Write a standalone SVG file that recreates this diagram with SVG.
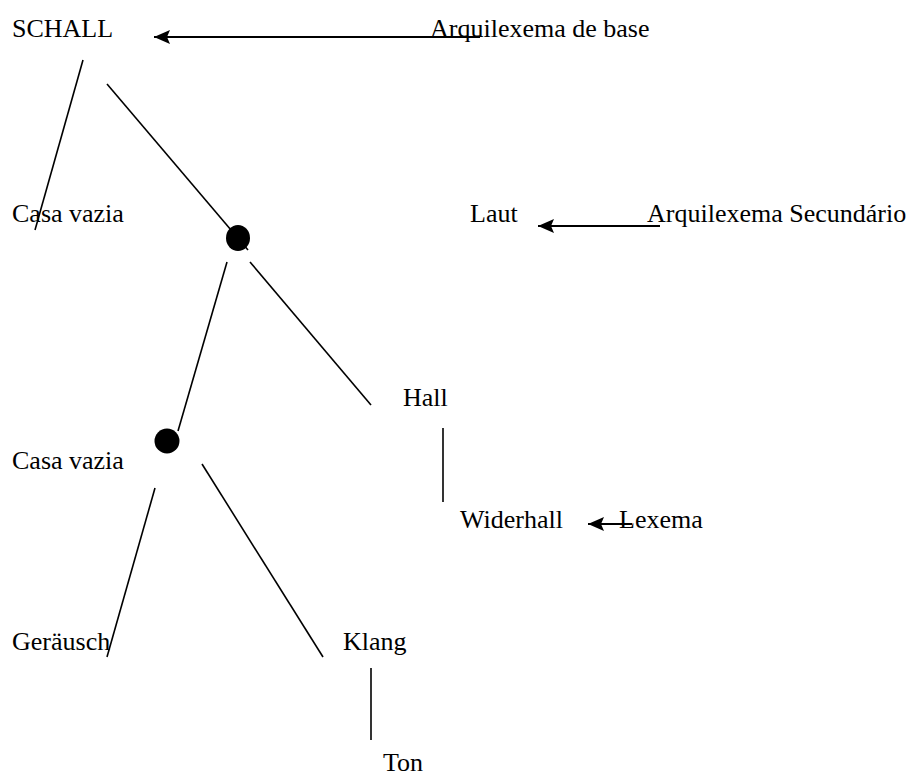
<svg xmlns="http://www.w3.org/2000/svg" width="914" height="776" viewBox="0 0 914 776">
<style>
text { font-family: "Liberation Serif", "Times New Roman", serif; font-size: 26px; fill: #000; }
.ln { stroke: #000; stroke-width: 1.6; fill: none; }
.ar { stroke: #000; stroke-width: 2; fill: none; marker-end: url(#ah); }
.dot { fill: #000; }
</style>
<defs>
<marker id="ah" markerUnits="userSpaceOnUse" markerWidth="18" markerHeight="16" refX="16" refY="8" orient="auto">
<path d="M0,1 L16,8 L0,15 L3,8 Z" fill="#000"/>
</marker>
</defs>
<rect width="914" height="776" fill="#fff"/>
<g id="connectors">
<line class="ln" x1="83" y1="60" x2="35" y2="230"/>
<line class="ln" x1="107" y1="84" x2="248" y2="250"/>
<line class="ln" x1="227" y1="262" x2="178" y2="431"/>
<line class="ln" x1="250" y1="262" x2="371" y2="405"/>
<line class="ln" x1="443" y1="428" x2="443" y2="502"/>
<line class="ln" x1="155" y1="488" x2="107" y2="657"/>
<line class="ln" x1="202" y1="464" x2="323" y2="657"/>
<line class="ln" x1="371" y1="668" x2="371" y2="740"/>
<line class="ar" x1="480" y1="37" x2="154" y2="37"/>
<line class="ar" x1="660" y1="226" x2="538" y2="226"/>
<line class="ar" x1="632" y1="524" x2="588" y2="524"/>
</g>
<g id="n-schall"><text x="12" y="37">SCHALL</text></g>
<g id="n-arq-base"><text x="430" y="37">Arquilexema de base</text></g>
<g id="n-casa1"><text x="12" y="222">Casa vazia</text></g>
<g id="n-laut"><text x="470" y="222">Laut</text></g>
<g id="n-arq-sec"><text x="647" y="222">Arquilexema Secundário</text></g>
<g id="n-dot1"><ellipse class="dot" cx="238" cy="238" rx="12" ry="13"/></g>
<g id="n-hall"><text x="403" y="406">Hall</text></g>
<g id="n-dot2"><circle class="dot" cx="167" cy="441" r="12.5"/></g>
<g id="n-casa2"><text x="12" y="469">Casa vazia</text></g>
<g id="n-widerhall"><text x="460" y="528">Widerhall</text></g>
<g id="n-lexema"><text x="619" y="528">Lexema</text></g>
<g id="n-gerausch"><text x="12" y="650">Geräusch</text></g>
<g id="n-klang"><text x="343" y="650">Klang</text></g>
<g id="n-ton"><text x="383" y="771">Ton</text></g>
</svg>
